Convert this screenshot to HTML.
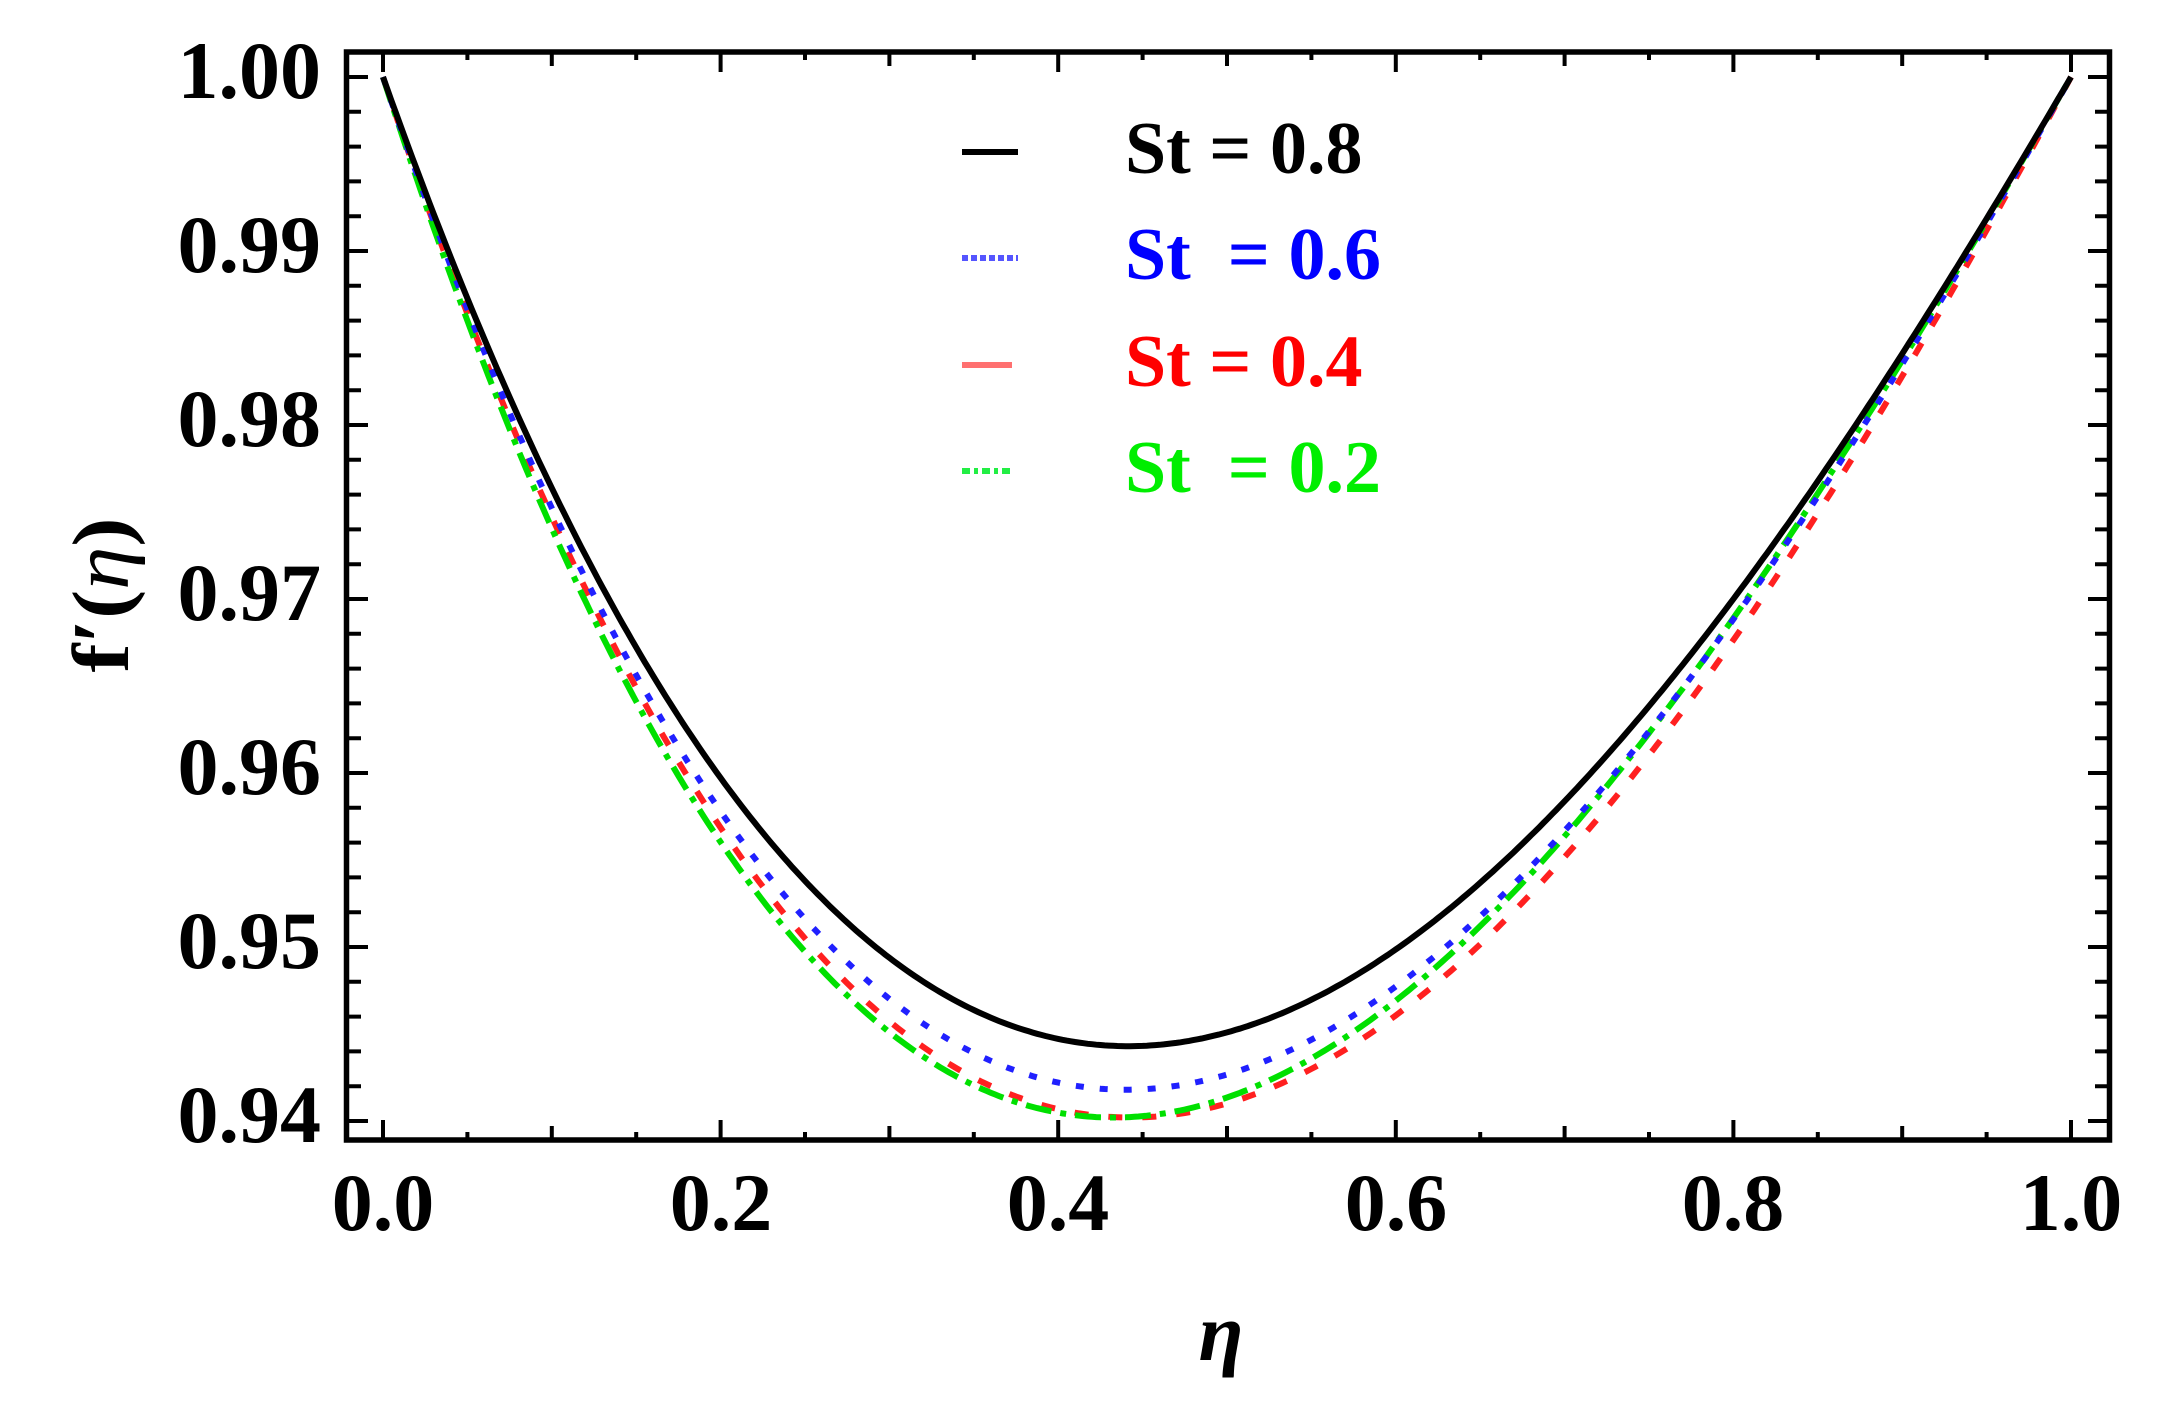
<!DOCTYPE html>
<html><head><meta charset="utf-8"><style>
html,body{margin:0;padding:0;background:#fff;}
svg{display:block;}
text{font-family:"Liberation Serif",serif;font-weight:bold;}
</style></head><body>
<svg id="s" width="2160" height="1419" viewBox="0 0 2160 1419" xmlns="http://www.w3.org/2000/svg">
<rect x="0" y="0" width="2160" height="1419" fill="#fff"/>
<g id="ticks" stroke="#000" stroke-width="4"></g>
<g id="curves" fill="none" stroke-width="6"></g>
<rect x="346.5" y="52" width="1763" height="1088" fill="none" stroke="#000" stroke-width="5.5"/>
<g font-size="82" text-anchor="end">
<text x="321" y="98">1.00</text>
<text x="321" y="272">0.99</text>
<text x="321" y="446">0.98</text>
<text x="321" y="620">0.97</text>
<text x="321" y="794">0.96</text>
<text x="321" y="968">0.95</text>
<text x="321" y="1142">0.94</text>
</g>
<g font-size="82" text-anchor="middle">
<text x="383" y="1230">0.0</text>
<text x="721" y="1230">0.2</text>
<text x="1058" y="1230">0.4</text>
<text x="1396" y="1230">0.6</text>
<text x="1733" y="1230">0.8</text>
<text x="2071" y="1230">1.0</text>
</g>
<text x="1221" y="1360" font-size="82" font-style="italic" font-weight="normal" text-anchor="middle">η</text>
<text transform="translate(128,595) rotate(-90)" font-size="80" text-anchor="middle" textLength="155" lengthAdjust="spacingAndGlyphs">f′(<tspan font-style="italic" font-weight="normal">η</tspan>)</text>
<g font-size="74">
<line x1="962" y1="152" x2="1018" y2="152" stroke="#000" stroke-width="6"/>
<text x="1125" y="173" fill="#000">St = 0.8</text>
<line x1="962" y1="258" x2="1018" y2="258" stroke="#5555ff" stroke-width="6" stroke-dasharray="6 3"/>
<text x="1125" y="279" fill="#0000ff" xml:space="preserve">St  = 0.6</text>
<line x1="962" y1="365" x2="1012" y2="365" stroke="#ff7070" stroke-width="6"/>
<text x="1125" y="386" fill="#ff0000">St = 0.4</text>
<line x1="962" y1="471" x2="1012" y2="471" stroke="#22ee44" stroke-width="6" stroke-dasharray="8 4 4 4"/>
<text x="1125" y="492" fill="#00ee00" xml:space="preserve">St  = 0.2</text>
</g>
</svg>
<script>
(function(){
var NS="http://www.w3.org/2000/svg";
function X(e){return 383+e*1688;}
function Y(f){return 77+(1-f)*17400;}
var t=document.getElementById("ticks"),d="";
for(var i=0;i<=20;i++){
 var x=X(i*0.05),L=(i%4==0)?18:((i%2==0)?12:6);
 d+="M"+x+" 1138V"+(1138-L)+"M"+x+" 54V"+(54+L);
}
for(var j=0;j<=30;j++){
 var y=Y(1-j*0.002),L2=(j%5==0)?20:13;
 d+="M348 "+y+"H"+(348+L2)+"M2108 "+y+"H"+(2108-L2);
}
var p=document.createElementNS(NS,"path");p.setAttribute("d",d);t.appendChild(p);
function curve(a,depth,col,dash){
 var g=function(e){return e*(1-e)*(a-e);};
 var mx=0;for(var k=0;k<=1000;k++){var v=g(k/1000);if(v>mx)mx=v;}
 var s="";
 for(var k=0;k<=400;k++){var e=k/400;var f=1-depth*g(e)/mx;s+=(k?"L":"M")+X(e).toFixed(1)+" "+Y(f).toFixed(1);}
 var q=document.createElementNS(NS,"path");q.setAttribute("d",s);q.setAttribute("stroke",col);
 if(dash)q.setAttribute("stroke-dasharray",dash);
 document.getElementById("curves").appendChild(q);
}
curve(2.6,0.0598,"#ff2020","14 20");
curve(2.25,0.0598,"#00e000","26 9 6 9");
curve(2.494,0.0582,"#2020ff","8 16");
curve(2.55,0.0557,"#000","");
})();
</script>
</body></html>
